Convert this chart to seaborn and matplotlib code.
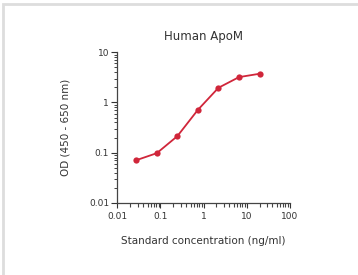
import matplotlib
matplotlib.use("Agg")
import matplotlib.pyplot as plt
import seaborn as sns
import pandas as pd
from matplotlib.ticker import NullFormatter, FixedLocator, FixedFormatter
from matplotlib.patches import Rectangle

concentration = [0.0274, 0.0823, 0.247, 0.741, 2.22, 6.67, 20.0]
od = [0.071, 0.098, 0.214, 0.715, 1.96, 3.2, 3.73]
x_ticks = [0.01, 0.1, 1, 10, 100]
x_labels = ["0.01", "0.1", "1", "10", "100"]
y_ticks = [0.01, 0.1, 1, 10]
y_labels = ["0.01", "0.1", "1", "10"]

df = pd.DataFrame({"conc": concentration, "od": od})

sns.set_style("ticks")
plt.rcParams['font.family'] = ['DejaVu Sans']
plt.rcParams['xtick.minor.visible'] = True
plt.rcParams['xtick.minor.bottom'] = True

fig = plt.figure(figsize=(3.58, 2.75), dpi=100)
fig.patches.append(Rectangle((0.008, -0.02), 1.1, 1.007, transform=fig.transFigure,
                             fill=False, edgecolor="#dddddd", linewidth=2))
ax = fig.add_axes([0.328, 0.262, 0.481, 0.548])
red = "#d0263a"
sns.lineplot(data=df, x="conc", y="od", ax=ax, color=red, linewidth=1.3,
             marker="o", markersize=4.5, markeredgewidth=0, markerfacecolor=red)
ax.set_xscale("log")
ax.set_yscale("log")
ax.set_xlim(0.01, 100)
ax.set_ylim(0.01, 10)

def minors(majors):
    return [m * k for m in majors[:-1] for k in range(2, 10)]

ax.xaxis.set_major_locator(FixedLocator(x_ticks))
ax.xaxis.set_major_formatter(FixedFormatter(x_labels))
ax.yaxis.set_major_locator(FixedLocator(y_ticks))
ax.yaxis.set_major_formatter(FixedFormatter(y_labels))
ax.xaxis.set_minor_locator(FixedLocator(minors(x_ticks)))
ax.yaxis.set_minor_locator(FixedLocator(minors(y_ticks)))
ax.xaxis.set_minor_formatter(NullFormatter())
ax.yaxis.set_minor_formatter(NullFormatter())
ax.tick_params(axis="both", which="major", length=4, width=0.8, labelsize=6.5, colors="#333333", pad=2)
ax.tick_params(axis="y", which="minor", left=True, length=2.5, width=0.7, color="#444444")
ax.tick_params(axis="x", which="minor", bottom=True, direction="out", length=3, width=0.8, color="#444444")
ax.tick_params(axis="x", which="major", bottom=True, length=3.5, pad=3)
for s in ["top", "right"]:
    ax.spines[s].set_visible(False)
for s in ["left", "bottom"]:
    ax.spines[s].set_color("#444444")
    ax.spines[s].set_linewidth(0.9)
ax.set_xlabel("Standard concentration (ng/ml)", fontsize=7.5, color="#333333", labelpad=11)
ax.set_ylabel("OD (450 - 650 nm)", fontsize=7.5, color="#333333", labelpad=13)
ax.set_title("Human ApoM", fontsize=8.5, color="#333333", pad=9)
fig.savefig("out.png", dpi=100)
